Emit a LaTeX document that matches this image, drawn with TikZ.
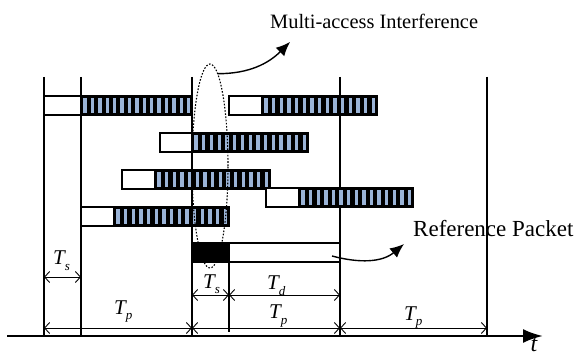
\documentclass[tikz,border=0pt]{standalone}
\usepackage{fontspec}
\setmainfont{Liberation Serif}
\usetikzlibrary{arrows.meta,shapes.geometric}
\definecolor{stripeblue}{RGB}{155,180,215}
\tikzset{
  timeline/.style={line width=1.1pt},
  boxline/.style={line width=1.5pt},
  dimarrow/.style={line width=0.9pt,
    {Straight Barb[length=5pt,width=11pt]}-{Straight Barb[length=5pt,width=11pt]}},
  lbl/.style={font=\fontsize{21}{24}\selectfont\itshape, inner sep=0pt, anchor=base west},
  caption/.style={font=\fontsize{20.4}{24}\selectfont, inner sep=0pt, anchor=base west},
  pointer/.style={line width=1.4pt, -{Latex[length=14pt,width=12pt]}},
}
% lowered italic subscript for the duration labels
\newcommand\lowsub[1]{\raisebox{-0.6ex}{\fontsize{13}{14}\selectfont\itshape #1}}
% a packet: white preamble from #1 to #2, striped payload from #2 to #3, top edge at #4
\newcommand\drawpacket[4]{%
  \draw[boxline, fill=white] (#1,#4) rectangle (#2,#4+19);
  \fill[black] (#2,#4) rectangle (#3,#4+19);
  \pgfmathtruncatemacro\nstripes{round((#3-#2)/7.5)}
  \pgfmathsetmacro\pitch{(#3-#2)/\nstripes}
  \foreach \k in {1,...,\nstripes}{
    \fill[stripeblue] ({#2+(\k-1)*\pitch+2.4},#4+2.2) rectangle ++(3.3,14.6);
  }
  \draw[boxline] (#2,#4) rectangle (#3,#4+19);
}
\begin{document}
\begin{tikzpicture}[x=1pt,y=-1pt]
\useasboundingbox (0,0) rectangle (576,358);

% time marks
\foreach \x/\n in {44/m0,81/m1,192/m2,340/m4,487/m5}{
  \coordinate (\n top) at (\x,77);
  \coordinate (\n bot) at (\x,336);
  \draw[timeline] (\n top) -- (\n bot);
}
\coordinate (m3top) at (229,262);
\coordinate (m3bot) at (229,332);
\draw[timeline] (m3top) -- (m3bot);

% time axis
\coordinate (axstart) at (7,336);
\coordinate (axend) at (543,336);
\draw[line width=2.5pt, -{Latex[length=20pt,width=14pt]}] (axstart) -- (axend);
\node[font=\fontsize{24}{28}\selectfont\itshape, inner sep=0pt] (tlabel) at (534,345) {t};

% interfering packets
\drawpacket{44}{81}{192}{96}
\drawpacket{229}{262}{377}{96}
\drawpacket{160}{192}{308}{133}
\drawpacket{122}{155}{270}{170}
\drawpacket{266}{299}{413}{188}
\drawpacket{81}{114}{229}{207}

% reference packet
\fill[black] (192,243) rectangle (229,262);
\draw[boxline] (192,243) rectangle (229,262);
\draw[boxline] (229,243) rectangle (340,262);

% overlap region
\node[ellipse, draw, dash pattern=on 1.6pt off 1.6pt, line width=1.1pt, minimum width=36pt,
      minimum height=204pt, inner sep=0pt] (mai) at (210,166) {};

% duration arrows
\coordinate (ts0) at (44,277);   \coordinate (ts1) at (81,277);
\coordinate (r0) at (192,295);   \coordinate (r1) at (229,295);  \coordinate (r2) at (340,295);
\coordinate (p0) at (44,328);    \coordinate (p1) at (192,328);
\coordinate (p2) at (340,328);   \coordinate (p3) at (487,328);
\draw[dimarrow] (ts0) -- (ts1);
\draw[dimarrow] (r0) -- (r1);
\draw[dimarrow] (r1) -- (r2);
\draw[dimarrow] (p0) -- (p1);
\draw[dimarrow] (p1) -- (p2);
\draw[dimarrow] (p2) -- (p3);

\node[lbl] (lts) at (53,265) {T\lowsub{s}};
\node[lbl] (ltp) at (114,314) {T\lowsub{p}};
\node[lbl] (lts2) at (203,288) {T\lowsub{s}};
\node[lbl] (ltd) at (267,290) {T\lowsub{d}};
\node[lbl] (ltp2) at (269,319) {T\lowsub{p}};
\node[lbl] (ltp3) at (404,320) {T\lowsub{p}};

% captions and pointers
\node[caption] (maitext) at (270,29) {Multi-access Interference};
\node[caption, font=\fontsize{23}{26}\selectfont] (reftext) at (413,237) {Reference Packet};
\coordinate (maitip) at (290,42);
\coordinate (refstart) at (332,256);
\coordinate (reftip) at (404,244);
\draw[pointer] (mai.85) to[out=0,in=-135] (maitip);
\draw[pointer] (refstart) to[out=-15,in=-140] (reftip);
\draw[timeline] (m5top) -- (m5bot);
\end{tikzpicture}
\end{document}
